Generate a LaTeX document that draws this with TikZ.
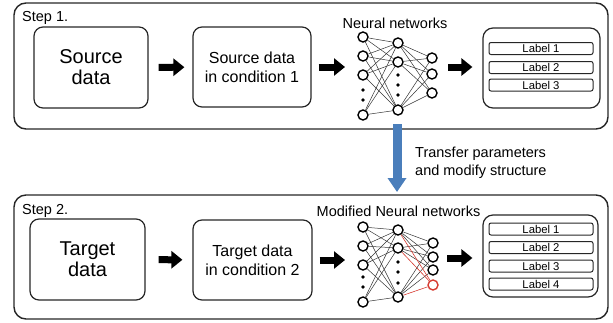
\documentclass[tikz,border=0pt]{standalone}
\usepackage{fontspec}
\setmainfont{Liberation Sans}
\usetikzlibrary{arrows.meta}
\definecolor{tblue}{RGB}{74,126,187}
\definecolor{tred}{RGB}{215,60,50}
\begin{document}
\begin{tikzpicture}[x=1pt,y=-1pt,
 panel/.style={draw=black!85, line width=1.4pt, rounded corners=12pt, inner sep=0pt},
 box/.style={draw=black!85, line width=1.2pt, rounded corners=9pt, inner sep=0pt, align=center},
 bigtxt/.style={font=\fontsize{20}{21}\selectfont},
 midtxt/.style={font=\fontsize{16}{19}\selectfont},
 smalltxt/.style={font=\fontsize{14.5}{18}\selectfont},
 lab/.style={draw=black!85, line width=1pt, rounded corners=2pt, minimum width=104pt, minimum height=12pt, inner sep=0pt, font=\fontsize{11.3}{12}\selectfont},
 neuron/.style={circle, draw=black, line width=1.4pt, fill=white, minimum size=10pt, inner sep=0pt},
 rneuron/.style={neuron, draw=tred},
 dotn/.style={circle, fill=black, minimum size=3.8pt, inner sep=0pt},
 nnedge/.style={line width=0.5pt, black!80},
 redge/.style={line width=0.6pt, tred},
 blockarrow/.style={line width=7pt, -{Triangle[length=11pt,width=17pt]}},
 bluearrow/.style={line width=9pt, tblue, -{Triangle[length=14pt,width=18pt]}}]
\useasboundingbox (0,0) rectangle (613,322);

% ---------- panels ----------
\node[panel, minimum width=594pt, minimum height=126pt] (p1) at (311,66) {};
\node[panel, minimum width=594pt, minimum height=124pt] (p2) at (311,257) {};
\node[smalltxt, anchor=west, inner sep=0pt] (s1) at (22,18) {Step 1.};
\node[smalltxt, anchor=west, inner sep=0pt] (s2) at (22,211) {Step 2.};

% ---------- Step 1 ----------
\node[box, bigtxt, minimum width=114pt, minimum height=81pt] (src) at (91,67.5) {Source\\data};
\node[box, midtxt, minimum width=118pt, minimum height=80pt] (cond1) at (252,67) {Source data\\in condition 1};
\node[smalltxt] (t1) at (395,23) {Neural networks};

\foreach \n/\y in {1/37,2/56,3/75,4/115} \node[neuron] (a\n) at (363,\y) {};
\foreach \n/\y in {1/90,2/100} \node[dotn] (ad\n) at (363,\y) {};
\foreach \n/\y in {1/43,2/62,3/110} \node[neuron] (b\n) at (398,\y) {};
\foreach \n/\y in {1/75,2/85,3/95} \node[dotn] (bd\n) at (398,\y) {};
\foreach \n/\y in {1/58,2/74,3/93} \node[neuron] (c\n) at (432,\y) {};
\foreach \i in {1,...,4} \foreach \j in {1,...,3} \draw[nnedge] (a\i) -- (b\j);
\foreach \i in {1,...,3} \foreach \j in {1,...,3} \draw[nnedge] (b\i) -- (c\j);

\node[box, rounded corners=10pt, minimum width=117pt, minimum height=80pt] (lb1) at (541.5,68) {};
\node[lab] (l11) at (541,48.5) {Label 1};
\node[lab] (l12) at (541,67.5) {Label 2};
\node[lab] (l13) at (541,85) {Label 3};

\coordinate (nin1) at (345,67);
\coordinate (nout1) at (448,67);
\draw[blockarrow, shorten <=10pt, shorten >=8pt] (src) -- (cond1);
\draw[blockarrow, shorten <=7pt] (cond1.east) -- (nin1);
\draw[blockarrow, shorten >=10pt] (nout1) -- (nout1 -| lb1.west);

% ---------- transfer ----------
\coordinate (ta) at (397,124);
\coordinate (tb) at (397,192);
\draw[bluearrow] (ta) -- (tb);
\node[smalltxt, align=left, anchor=west, inner sep=0pt] (tr) at (415,163) {Transfer parameters\\and modify structure};

% ---------- Step 2 ----------
\node[box, bigtxt, minimum width=115pt, minimum height=81pt] (tgt) at (87.5,259.5) {Target\\data};
\node[box, midtxt, minimum width=119pt, minimum height=80pt] (cond2) at (252.5,260) {Target data\\in condition 2};
\node[smalltxt] (t2) at (398.5,211) {Modified Neural networks};

\foreach \n/\y in {1/227,2/246,3/265,4/302} \node[neuron] (A\n) at (363,\y) {};
\foreach \n/\y in {1/277,2/287} \node[dotn] (Ad\n) at (363,\y) {};
\foreach \n/\y in {1/230,2/248,3/297} \node[neuron] (B\n) at (398,\y) {};
\foreach \n/\y in {1/262,2/272,3/283} \node[dotn] (Bd\n) at (398,\y) {};
\foreach \n/\y in {1/243,2/257,3/270} \node[neuron] (C\n) at (433,\y) {};
\node[rneuron] (C4) at (433,285) {};
\foreach \i in {1,...,4} \foreach \j in {1,...,3} \draw[nnedge] (A\i) -- (B\j);
\foreach \i in {1,...,3} \foreach \j in {1,...,3} \draw[nnedge] (B\i) -- (C\j);
\foreach \i in {1,...,3} \draw[redge] (B\i) -- (C4);

\node[box, rounded corners=10pt, minimum width=115pt, minimum height=82pt] (lb2) at (540.5,256) {};
\node[lab] (l21) at (541,229) {Label 1};
\node[lab] (l22) at (541,247.5) {Label 2};
\node[lab] (l23) at (541,266) {Label 3};
\node[lab] (l24) at (541,284) {Label 4};

\coordinate (nin2) at (345,260);
\coordinate (nout2) at (447,258);
\draw[blockarrow, shorten <=13pt, shorten >=10pt] (tgt) -- (cond2);
\draw[blockarrow, shorten <=7pt] (cond2.east) -- (nin2);
\draw[blockarrow, shorten >=10pt] (nout2) -- (nout2 -| lb2.west);
\end{tikzpicture}
\end{document}
